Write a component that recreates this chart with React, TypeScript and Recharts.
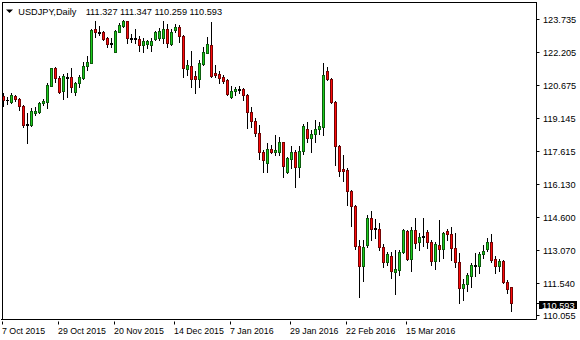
import { ComposedChart, Bar, XAxis, YAxis, ReferenceLine } from "recharts";

// daily USDJPY candles, oldest first
const opens = [
  120.19, 119.97, 119.9, 120.18, 120.05, 119.71, 118.84, 118.85, 119.39, 119.44,
  119.84, 119.88, 120.65, 121.46, 120.99, 120.39, 121.02, 121.04, 120.36, 120.76,
  121.02, 121.55, 121.72, 123.26, 123.15, 123.12, 122.84, 122.58, 122.22, 123.15,
  123.41, 123.63, 122.84, 122.8, 122.8, 122.53, 122.58, 122.53, 122.8, 122.87,
  122.84, 123.27, 122.58, 123.23, 123.35, 122.95, 121.41, 121.56, 121.1, 120.98,
  121.66, 122.18, 122.53, 121.23, 121.19, 121.04, 120.92, 120.12, 120.42, 120.45,
  120.5, 120.22, 119.42, 119.02, 118.45, 117.6, 117.07, 117.71, 117.6, 117.6,
  118.04, 116.65, 117.26, 117.6, 116.88, 117.65, 118.64, 118.25, 118.41, 118.65,
  118.76, 121.33, 120.96, 119.91, 117.87, 116.79, 116.76, 115.8, 115.09, 113.26,
  112.33, 113.29, 114.52, 114.02, 114.02, 113.21, 112.52, 112.78, 112.03, 112.13,
  112.97, 113.95, 112.63, 113.98, 113.41, 113.65, 113.89, 113.41, 112.56, 113.28,
  113.12, 113.94, 113.8, 113.14, 112.49, 111.32, 111.47, 111.87, 112.32, 112.33,
  112.86, 113.1, 113.41, 112.63, 112.33, 112.55, 111.57, 111.327,
];
const highs = [
  120.31, 120.13, 120.31, 120.22, 120.1, 119.76, 119.39, 119.62, 119.67, 119.9,
  120.04, 120.76, 121.48, 121.53, 121.1, 121.19, 121.23, 121.48, 120.84, 121.13,
  121.76, 122.02, 123.26, 123.66, 123.41, 123.18, 122.92, 122.84, 123.23, 123.54,
  123.69, 123.66, 123.03, 123.26, 122.95, 122.84, 122.76, 122.84, 123.18, 123.31,
  123.66, 123.5, 123.26, 123.5, 123.46, 123.0, 121.84, 122.26, 121.35, 121.84,
  122.43, 122.89, 123.6, 121.6, 121.35, 121.13, 120.98, 120.64, 120.58, 120.64,
  120.53, 120.25, 119.68, 119.15, 118.82, 117.68, 118.0, 117.91, 118.37, 118.28,
  118.06, 117.36, 117.88, 117.68, 117.88, 118.87, 118.99, 118.6, 119.05, 118.99,
  121.69, 121.53, 120.99, 119.94, 117.91, 117.45, 116.83, 115.83, 115.14, 113.52,
  113.52, 114.68, 114.86, 114.49, 114.32, 113.34, 112.98, 112.98, 113.06, 113.06,
  114.01, 113.98, 114.11, 114.52, 113.83, 114.52, 113.98, 113.52, 113.41, 114.44,
  113.9, 114.01, 114.14, 113.83, 112.93, 111.7, 111.98, 112.47, 112.91, 112.98,
  113.29, 113.6, 113.8, 112.78, 112.64, 112.6, 111.67, 111.347,
];
const lows = [
  119.71, 119.81, 119.85, 119.94, 119.53, 118.74, 118.02, 118.79, 119.3, 119.39,
  119.77, 119.61, 120.64, 120.84, 120.3, 120.02, 120.14, 120.37, 120.21, 120.61,
  120.98, 121.38, 121.69, 122.92, 123.0, 122.76, 122.45, 122.45, 122.2, 123.12,
  123.38, 122.64, 122.69, 122.61, 122.27, 122.22, 122.38, 122.27, 122.76, 122.76,
  122.64, 122.43, 122.55, 123.15, 122.69, 121.07, 121.15, 120.58, 120.33, 120.58,
  121.61, 122.15, 121.04, 121.04, 120.76, 120.76, 120.24, 120.07, 120.22, 120.33,
  119.99, 118.68, 118.76, 118.33, 117.25, 116.68, 116.65, 117.53, 117.45, 117.45,
  116.45, 116.62, 116.86, 115.96, 116.45, 117.5, 118.04, 117.6, 118.04, 118.41,
  118.37, 120.92, 119.84, 116.99, 116.49, 116.25, 115.14, 114.17, 113.09, 110.9,
  111.64, 113.21, 113.52, 113.6, 113.06, 112.26, 112.37, 111.75, 111.01, 111.9,
  112.91, 112.6, 112.1, 113.14, 113.06, 113.24, 113.16, 112.37, 112.17, 112.56,
  112.7, 113.52, 112.6, 112.26, 110.59, 110.75, 111.18, 111.33, 111.86, 112.01,
  112.67, 113.01, 112.52, 111.98, 112.09, 111.55, 111.06, 110.259,
];
const closes = [
  119.99, 120.0, 120.22, 120.04, 119.71, 118.82, 118.88, 119.48, 119.48, 119.85,
  119.96, 120.67, 121.46, 120.99, 120.37, 121.1, 121.07, 120.58, 120.76, 121.04,
  121.56, 121.75, 123.23, 123.15, 123.1, 122.81, 122.57, 122.64, 123.18, 123.46,
  123.63, 122.84, 122.8, 122.84, 122.53, 122.73, 122.7, 122.72, 123.12, 123.18,
  123.26, 122.61, 123.15, 123.35, 122.95, 121.46, 121.61, 120.95, 120.98, 121.72,
  122.2, 122.58, 121.1, 121.16, 121.01, 120.87, 120.27, 120.42, 120.49, 120.51,
  120.24, 119.42, 119.03, 118.45, 117.6, 117.22, 117.71, 117.6, 117.67, 118.04,
  116.95, 117.3, 117.6, 116.88, 117.65, 118.79, 118.25, 118.42, 118.65, 118.8,
  121.15, 120.96, 119.91, 117.87, 116.71, 116.72, 115.8, 115.11, 113.26, 112.33,
  113.18, 114.52, 114.02, 114.08, 113.18, 112.49, 112.86, 112.09, 112.17, 112.97,
  113.98, 112.63, 113.98, 113.4, 113.65, 113.71, 113.41, 112.56, 113.34, 113.12,
  113.86, 113.78, 113.14, 112.49, 111.32, 111.47, 111.9, 112.37, 112.37, 112.87,
  113.01, 113.41, 112.6, 112.33, 112.55, 111.57, 111.26, 110.593,
];

const priceTicks = [123.735, 122.205, 120.675, 119.145, 117.615, 116.13, 114.6, 113.07, 111.54, 110.055];
const dateTickIdx = [0, 14, 28, 43, 57, 72, 86, 101];
const dateTickLabels = [
  "7 Oct 2015", "29 Oct 2015", "20 Nov 2015", "14 Dec 2015",
  "7 Jan 2016", "29 Jan 2016", "22 Feb 2016", "15 Mar 2016",
];
const lastPrice = 110.593;

const FONT = "'Liberation Sans', Arial, sans-serif";
const BULL = "#1ccc1c";
const BEAR = "#ff0a0a";

const data = opens.map((o, i) => ({
  i,
  range: [lows[i], highs[i]],
  o,
  h: highs[i],
  l: lows[i],
  c: closes[i],
}));

function Candle(props: any) {
  const { x, y, width, height, payload } = props;
  const { o, h, l, c } = payload;
  const top = Math.min(y, y + height);
  const bottom = Math.max(y, y + height);
  const ppu = h - l > 0 ? (bottom - top) / (h - l) : 0;
  const py = (v: number) => top + (h - v) * ppu;
  const col = Math.round(x + width / 2) - 1;
  const bodyTop = Math.round(py(Math.max(o, c)));
  const bodyBot = Math.round(py(Math.min(o, c)));
  const up = c >= o;
  const bh = bodyBot - bodyTop;
  return (
    <g>
      <line x1={col + 1.5} x2={col + 1.5} y1={Math.round(top)} y2={Math.round(bottom) + 1} stroke="#000" strokeWidth={1} />
      {bh < 2 ? (
        <rect x={col} y={bodyTop} width={3} height={Math.max(1, bh + 1)} fill="#000" />
      ) : (
        <g>
          <rect x={col} y={bodyTop} width={3} height={bh + 1} fill={up ? BULL : BEAR} />
          <rect
            x={col + 0.5}
            y={bodyTop + 0.5}
            width={2}
            height={bh}
            fill="none"
            stroke="#000"
            strokeOpacity={0.55}
            strokeWidth={1}
          />
        </g>
      )}
    </g>
  );
}

function DateTick(props: any) {
  const { x, y, payload } = props;
  const k = dateTickIdx.indexOf(payload.value);
  const px = Math.round(x) - 0.5;
  return (
    <g>
      <line x1={px} x2={px} y1={y} y2={y + 3} stroke="#000" />
      <text x={px - 0.5} y={y + 12} fontSize={8.8} fontFamily={FONT} fill="#000">
        {k >= 0 ? dateTickLabels[k] : ""}
      </text>
    </g>
  );
}

function PriceTick(props: any) {
  const { x, y, payload } = props;
  const py = Math.round(y) + 0.5;
  return (
    <g>
      <line x1={x} x2={x + 3} y1={py} y2={py} stroke="#000" />
      <text x={x + 6.5} y={py + 3.5} fontSize={9.2} fontFamily={FONT} fill="#000">
        {payload.value.toFixed(3)}
      </text>
    </g>
  );
}

function LastPriceTag(props: any) {
  const { viewBox } = props;
  const ax = viewBox.x + viewBox.width;
  const py = Math.round(viewBox.y) + 0.5;
  return (
    <g>
      <line x1={ax} x2={ax + 3} y1={py} y2={py} stroke="#000" />
      <rect x={ax + 2.5} y={py - 2.5} width={38} height={8} fill="#000" />
      <text x={ax + 5.5} y={py + 5} fontSize={9.2} fontFamily={FONT} fill="#fff">
        {lastPrice.toFixed(3)}
      </text>
    </g>
  );
}

export default function App() {
  return (
    <div style={{ position: "absolute", left: 0, top: 0, width: 580, height: 340, background: "#fff" }}>
      <ComposedChart
        width={580}
        height={340}
        data={data}
        margin={{ top: 2, right: 0, bottom: 0, left: 1 }}
        barCategoryGap={0}
        style={{ overflow: "visible" }}
      >
        <XAxis
          dataKey="i"
          type="category"
          ticks={dateTickIdx}
          interval={0}
          height={20.5}
          padding={{ left: 0.3, right: 23.2 }}
          axisLine={{ stroke: "#000" }}
          tickLine={false}
          tickSize={0}
          tick={<DateTick />}
        />
        <YAxis
          orientation="right"
          domain={[109.846, 124.521]}
          ticks={priceTicks}
          width={43.5}
          axisLine={{ stroke: "#000" }}
          tickLine={false}
          tickSize={0}
          tickMargin={0}
          tick={<PriceTick />}
          allowDataOverflow
        />
        <ReferenceLine y={lastPrice} stroke="none" label={<LastPriceTag />} />
        <Bar dataKey="range" shape={<Candle />} isAnimationActive={false} />
      </ComposedChart>
      <div
        style={{
          position: "absolute",
          left: 2,
          top: 2,
          width: 535,
          height: 318,
          borderLeft: "1px solid #000",
          borderTop: "1px solid #000",
          boxSizing: "border-box",
          pointerEvents: "none",
        }}
      />
      <svg width={240} height={20} style={{ position: "absolute", left: 0, top: 0 }}>
        <polygon points="6,9.5 13,9.5 9.5,13" fill="#000" />
        <text x={18.3} y={15} fontSize={9.2} fontFamily={FONT} fill="#000">
          USDJPY,Daily
        </text>
        <text x={85.7} y={15} fontSize={9.2} fontFamily={FONT} fill="#000">
          111.327 111.347 110.259 110.593
        </text>
      </svg>
    </div>
  );
}
